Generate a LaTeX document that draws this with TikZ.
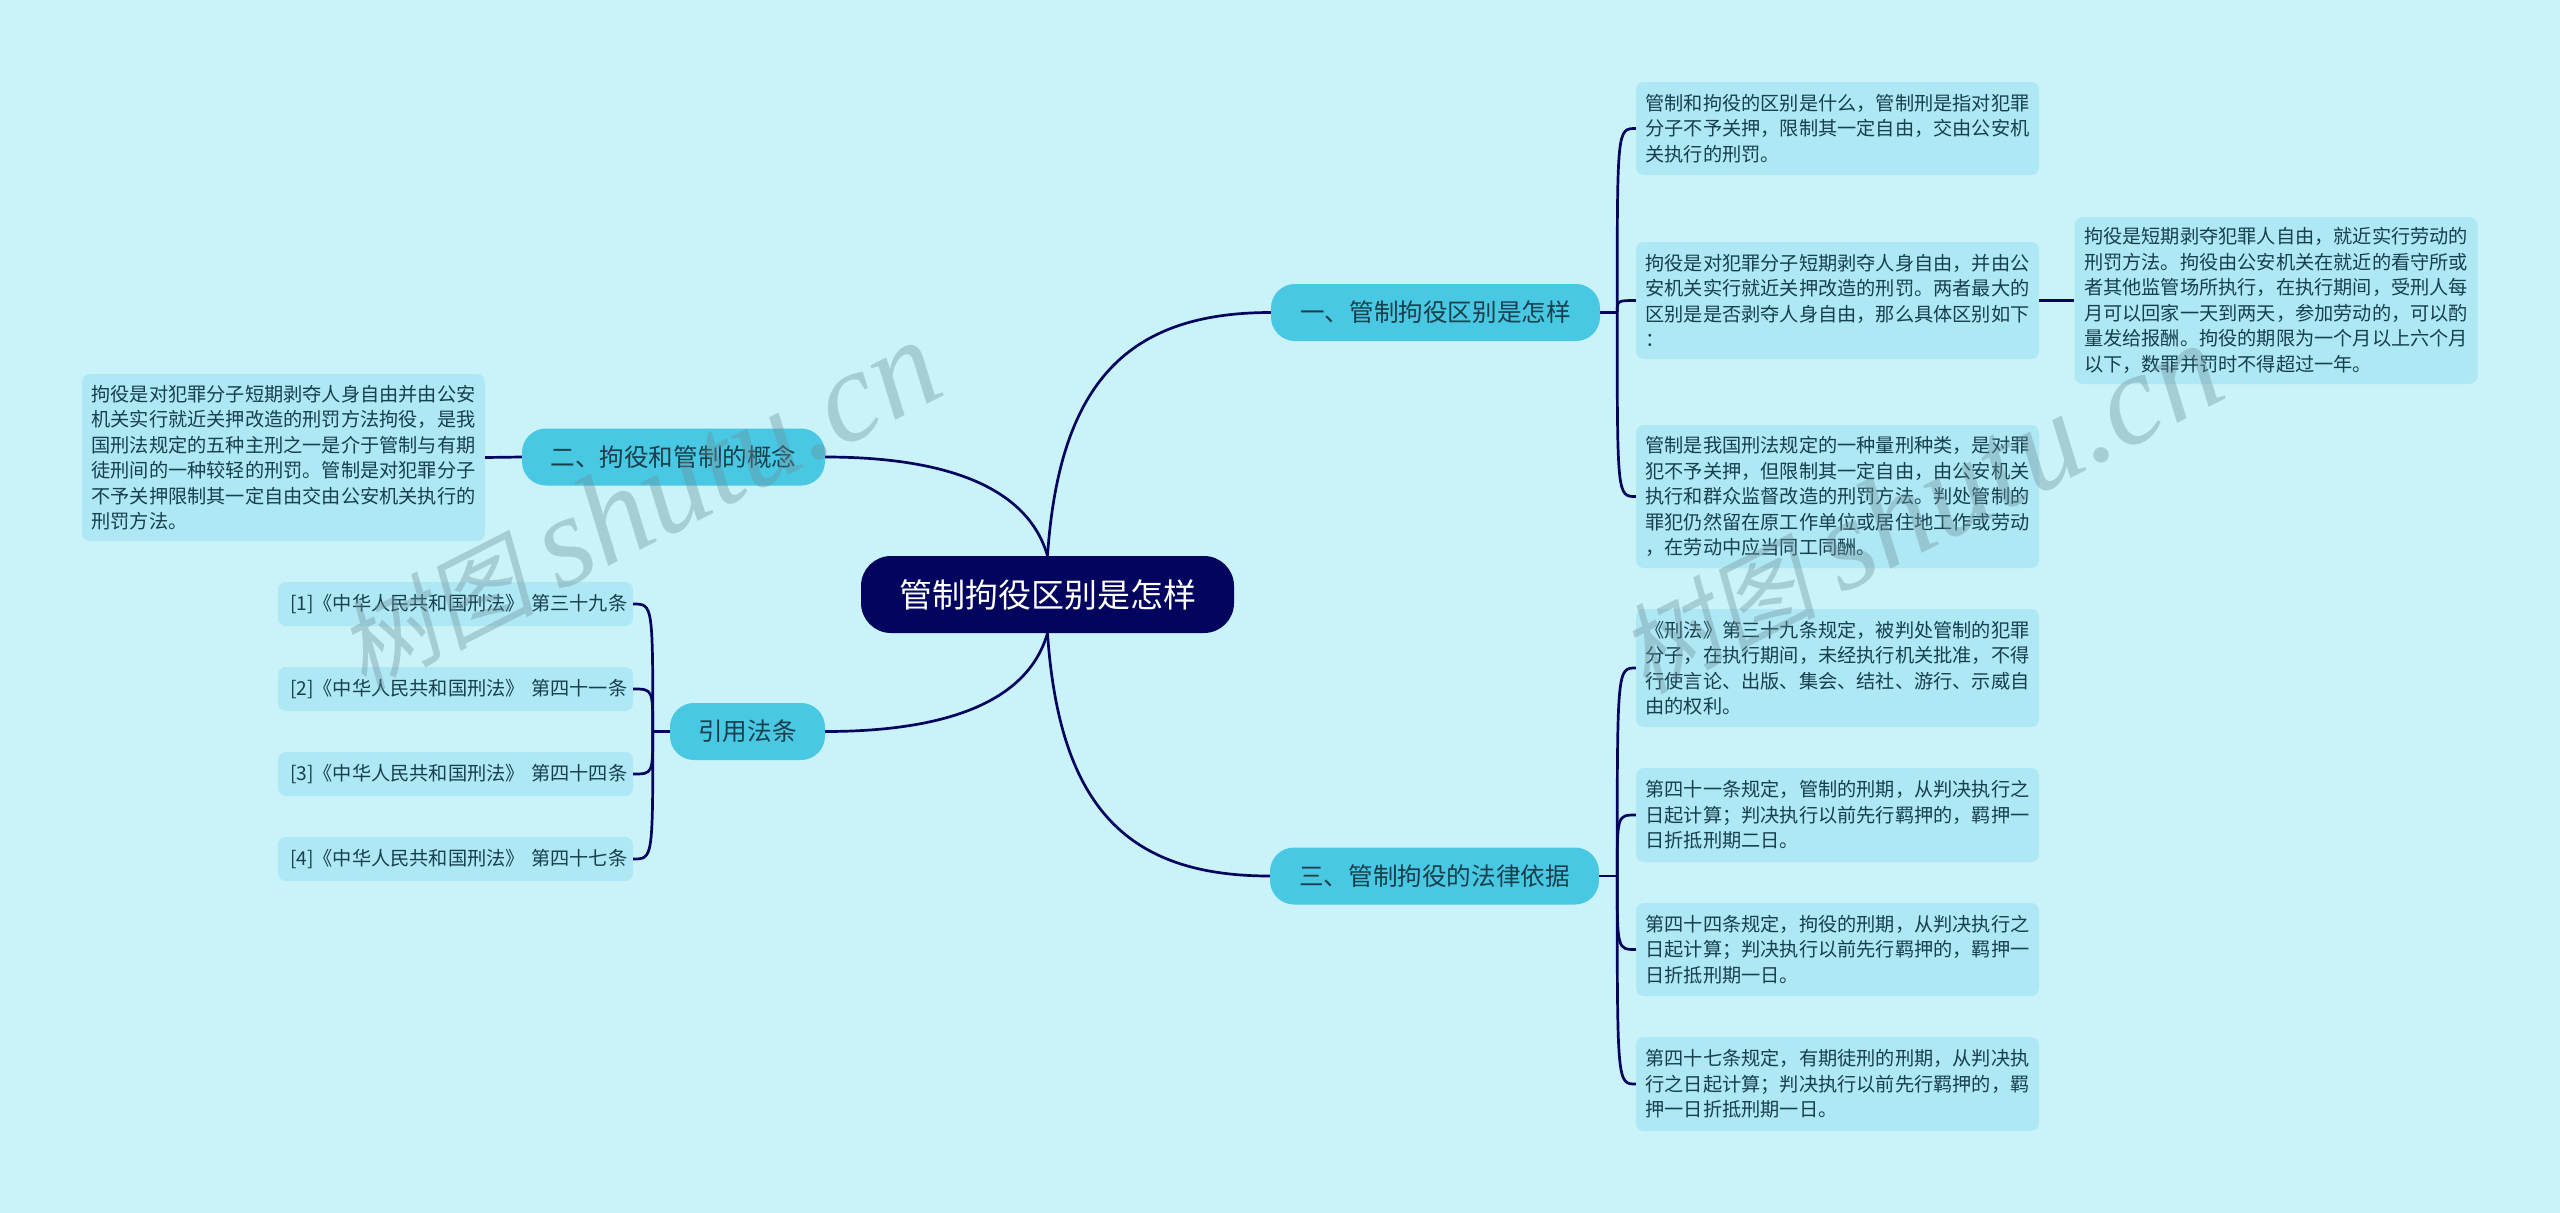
\documentclass[tikz,border=0pt]{standalone}
\usepackage{fontspec}
\setmainfont{Noto Sans CJK SC}
\newfontfamily\markcjk[FakeSlant=0.2]{Noto Sans CJK SC}
\newfontfamily\marklatin{Liberation Serif}
\usepackage{xcolor}
\usetikzlibrary{calc}
\definecolor{canvas}{HTML}{c9f2f9}
\definecolor{navy}{HTML}{02045e}
\definecolor{branch}{HTML}{49c8e4}
\definecolor{leafbg}{HTML}{aee8f4}
\definecolor{inkdark}{HTML}{173f4c}
\definecolor{markgrey}{HTML}{6d8f99}
\tikzset{
  rootnode/.style={fill=navy, text=white, rounded corners=30pt, minimum width=373pt, minimum height=77pt, font=\fontsize{33}{40}\selectfont},
  branchnode/.style={fill=branch, text=inkdark, rounded corners=24pt, minimum height=57pt, font=\fontsize{24.6}{30}\selectfont},
  leafnode/.style={fill=leafbg, text=inkdark, rounded corners=8pt, inner xsep=9.5pt, inner ysep=0pt, text width=384pt, align=left, font=\fontsize{19.2}{25.5}\selectfont},
  reflnode/.style={leafnode, inner xsep=12pt, text width=331pt, minimum height=44pt},
  link/.style={navy, line width=2.7pt},
  markword/.style={text=markgrey, opacity=0.38, rotate=27, anchor=west, inner sep=0pt}
}
\begin{document}
\begin{tikzpicture}[x=1pt,y=-1pt]
\useasboundingbox (0,0) rectangle (2560,1213);
\fill[canvas] (0,0) rectangle (2560,1213);
% Root and branches
\node[rootnode] (root) at (1047.5,594.5) {管制拘役区别是怎样};
\node[branchnode, minimum width=329pt] (m1) at (1435.5,312.5) {一、管制拘役区别是怎样};
\node[branchnode, minimum width=303pt] (m2) at (673.5,457) {二、拘役和管制的概念};
\node[branchnode, minimum width=329pt] (m3) at (1434.5,876) {三、管制拘役的法律依据};
\node[branchnode, minimum width=155pt] (m4) at (747.5,731.5) {引用法条};
% Right side, upper
\node[leafnode, minimum height=93pt] (a1) at (1837.5,128.5) {管制和拘役的区别是什么，管制刑是指对犯罪\\分子不予关押，限制其一定自由，交由公安机\\关执行的刑罚。};
\node[leafnode, minimum height=117pt] (a2) at (1837.5,300.5) {拘役是对犯罪分子短期剥夺人身自由，并由公\\安机关实行就近关押改造的刑罚。两者最大的\\区别是是否剥夺人身自由，那么具体区别如下\\：};
\node[leafnode, minimum height=143pt] (a3) at (1837.5,496.5) {管制是我国刑法规定的一种量刑种类，是对罪\\犯不予关押，但限制其一定自由，由公安机关\\执行和群众监督改造的刑罚方法。判处管制的\\罪犯仍然留在原工作单位或居住地工作或劳动\\，在劳动中应当同工同酬。};
\node[leafnode, minimum height=167pt] (a4) at (2276,300.5) {拘役是短期剥夺犯罪人自由，就近实行劳动的\\刑罚方法。拘役由公安机关在就近的看守所或\\者其他监管场所执行，在执行期间，受刑人每\\月可以回家一天到两天，参加劳动的，可以酌\\量发给报酬。拘役的期限为一个月以上六个月\\以下，数罪并罚时不得超过一年。};
% Right side, lower
\node[leafnode, minimum height=118pt] (c1) at (1837.5,668) {《刑法》第三十九条规定，被判处管制的犯罪\\分子，在执行期间，未经执行机关批准，不得\\行使言论、出版、集会、结社、游行、示威自\\由的权利。};
\node[leafnode, minimum height=94pt] (c2) at (1837.5,815) {第四十一条规定，管制的刑期，从判决执行之\\日起计算；判决执行以前先行羁押的，羁押一\\日折抵刑期二日。};
\node[leafnode, minimum height=93pt] (c3) at (1837.5,949.5) {第四十四条规定，拘役的刑期，从判决执行之\\日起计算；判决执行以前先行羁押的，羁押一\\日折抵刑期一日。};
\node[leafnode, minimum height=94pt] (c4) at (1837.5,1084) {第四十七条规定，有期徒刑的刑期，从判决执\\行之日起计算；判决执行以前先行羁押的，羁\\押一日折抵刑期一日。};
% Left side
\node[leafnode, minimum height=167pt] (b1) at (283.5,457.5) {拘役是对犯罪分子短期剥夺人身自由并由公安\\机关实行就近关押改造的刑罚方法拘役，是我\\国刑法规定的五种主刑之一是介于管制与有期\\徒刑间的一种较轻的刑罚。管制是对犯罪分子\\不予关押限制其一定自由交由公安机关执行的\\刑罚方法。};
\foreach \i/\y/\lab in {1/604/三十九, 2/689/四十一, 3/774/四十四, 4/859/四十七} {
  \node[reflnode] (d\i) at (455.5,\y) {[\i]《中华人民共和国刑法》~第\lab 条};
}
% Trunk curves
\draw[link] (root.north) .. controls +(-22,-76) and +(105,0) .. (m2.east);
\draw[link] (root.north) .. controls +(12,-176) and +(-141,0) .. (m1.west);
\draw[link] (root.south) .. controls +(-22,76) and +(105,0) .. (m4.east);
\draw[link] (root.south) .. controls +(12,176) and +(-141,0) .. (m3.west);
% Brackets
\coordinate (j1) at ($(m1.east)+(17,0)$);
\coordinate (j3) at ($(m3.east)+(18,0)$);
\coordinate (j4) at ($(m4.west)+(-17,0)$);
\draw[link] (m1.east) -- (j1);
\draw[link] (m3.east) -- (j3);
\draw[link] (m4.west) -- (j4);
\foreach \n in {a1,a2,a3} {
  \draw[link] (j1) .. controls (j1 |- \n.west) .. (\n.west);
}
\foreach \n in {c1,c2,c3,c4} {
  \draw[link] (j3) .. controls (j3 |- \n.west) .. (\n.west);
}
\foreach \n in {d1,d2,d3,d4} {
  \draw[link] (j4) .. controls (j4 |- \n.east) .. (\n.east);
}
\draw[link] (a2.east) -- (a4.west);
\draw[link] (b1.east) -- (m2.west);
% Watermarks
\foreach \n/\x/\y in {wm1/345/655, wm2/1627/658} {
  \node[markword] (\n) at (\x,\y) {\fontsize{98}{98}\selectfont\markcjk 树图\hspace{24pt}\fontsize{130}{130}\selectfont\marklatin\itshape shutu.cn};
}
\end{tikzpicture}
\end{document}
